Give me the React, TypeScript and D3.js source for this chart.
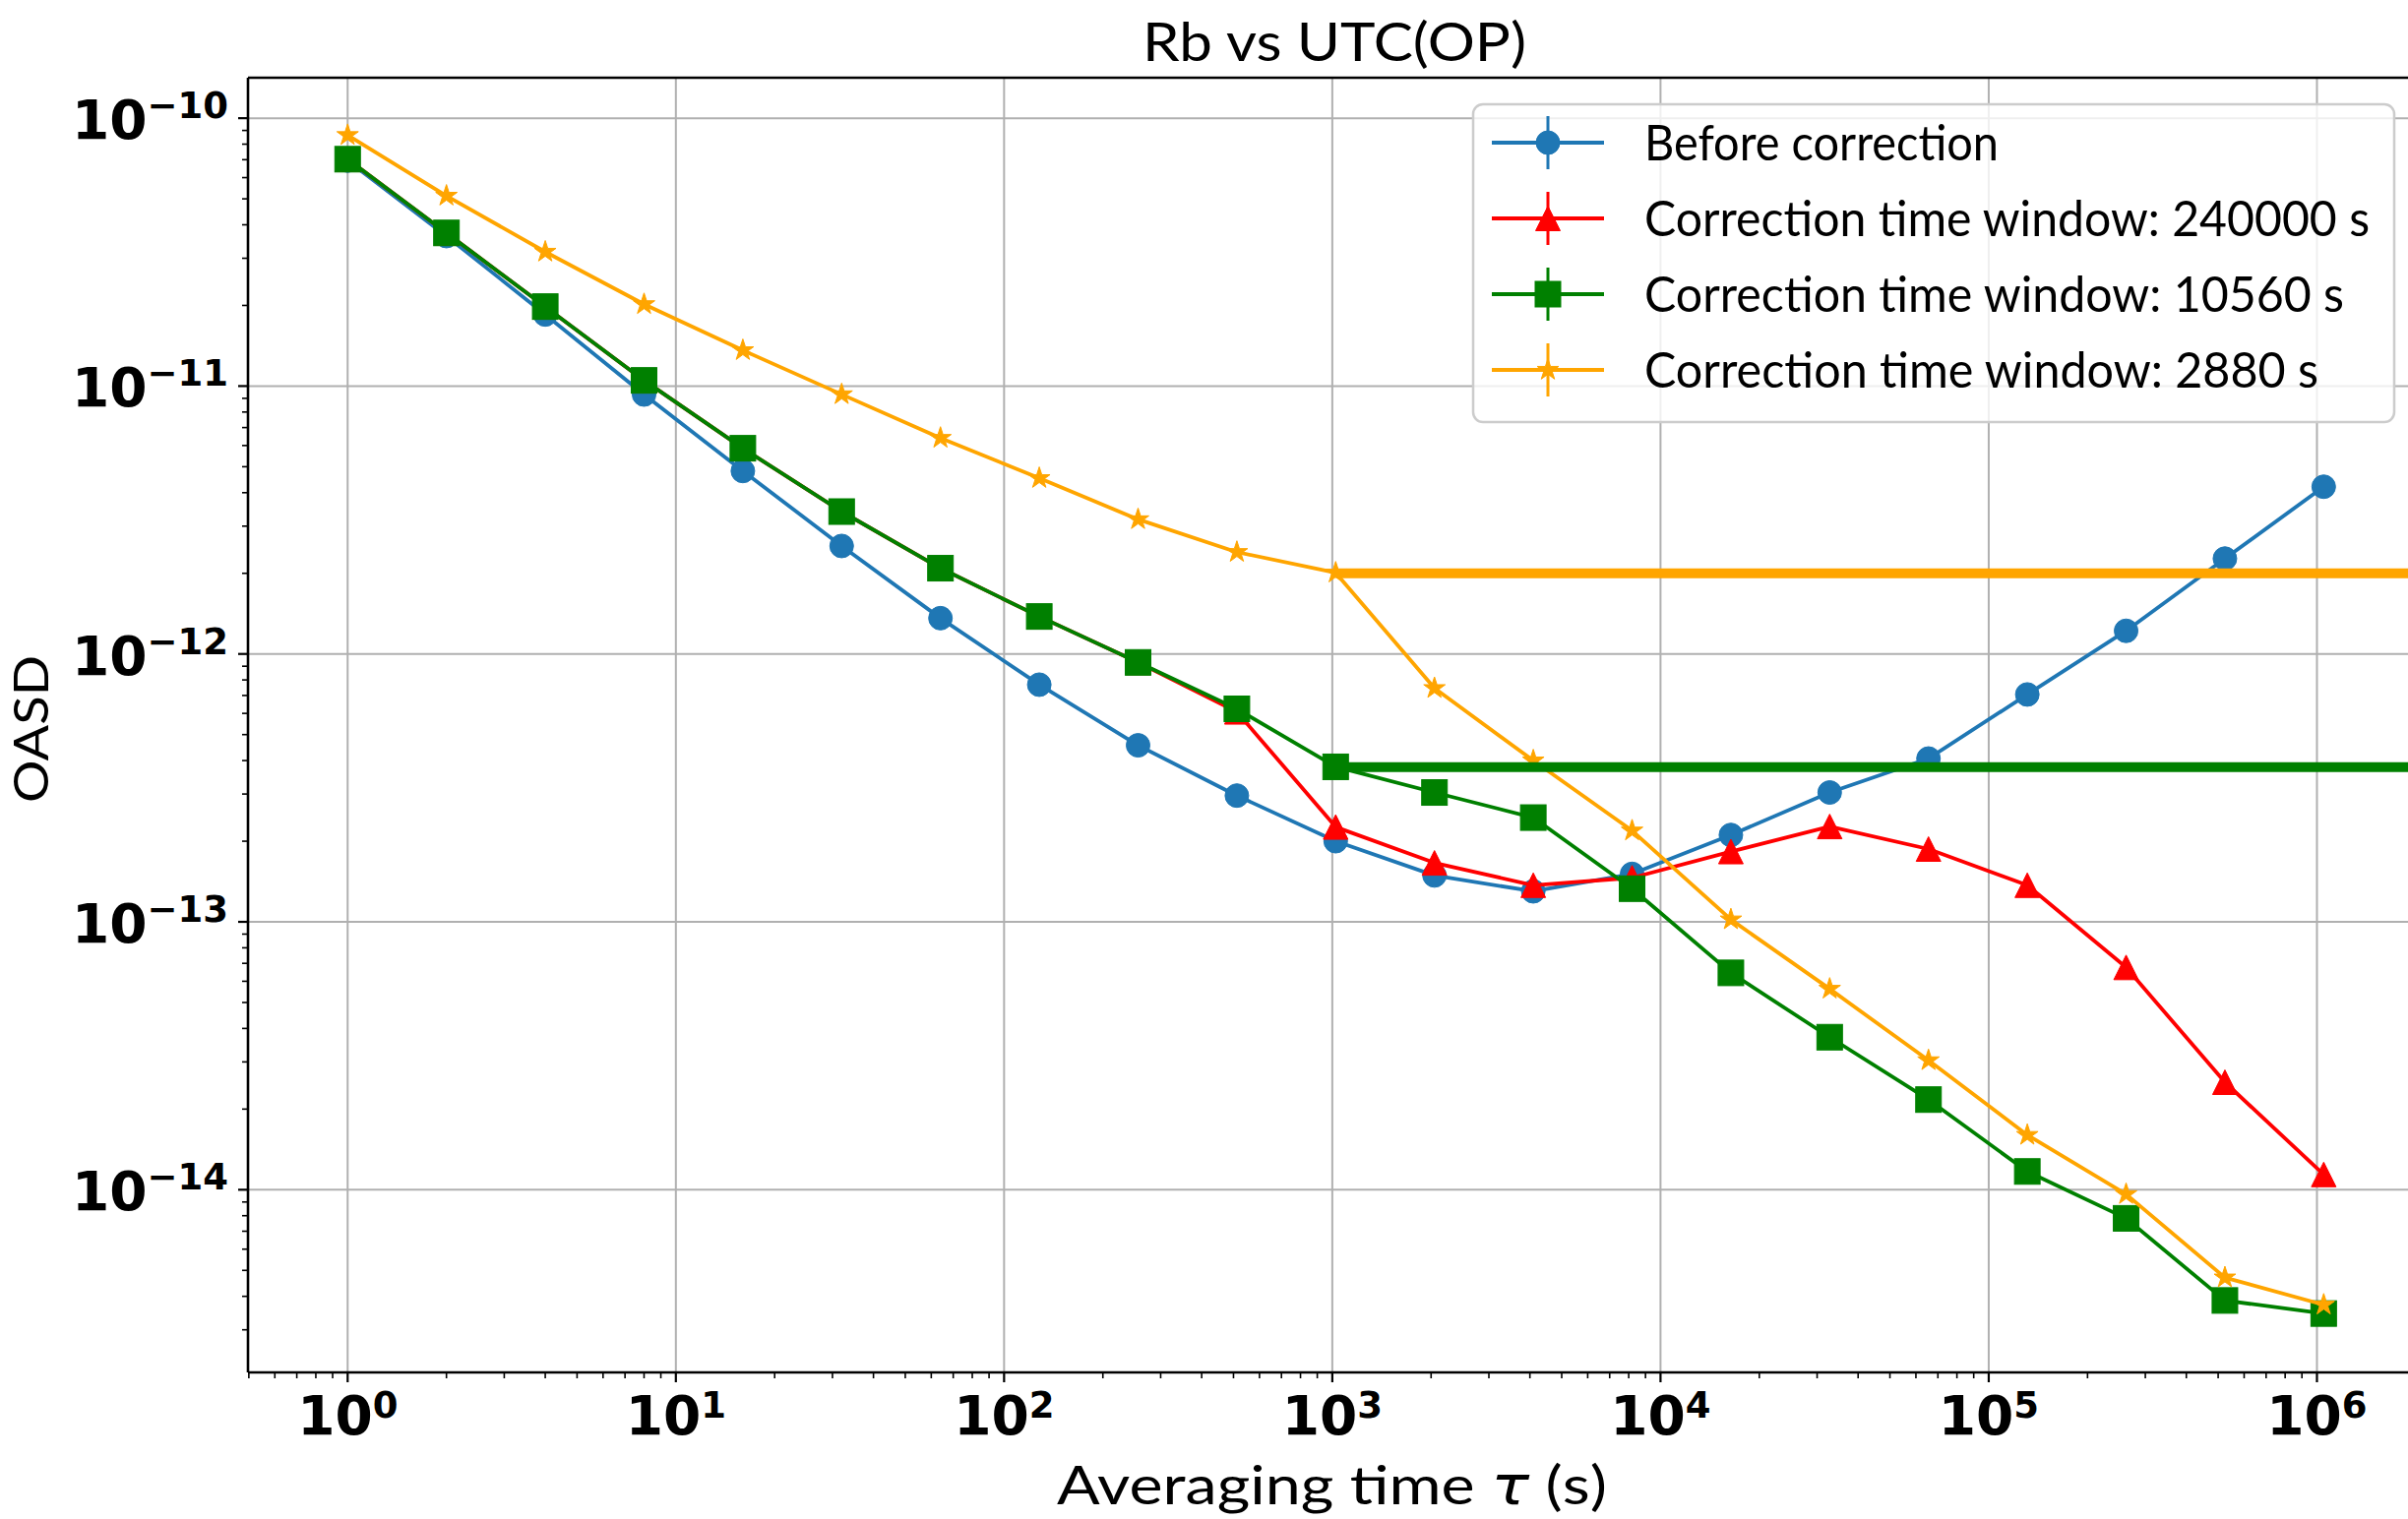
import React from 'react';
import * as d3 from 'd3';

// ---------- data ----------
const TAU = [1, 2, 4, 8, 16, 32, 64, 128, 256, 512, 1024, 2048, 4096, 8192, 16384, 32768, 65536, 131072, 262144, 524288, 1048576];

const BEFORE = [6.95e-11, 3.63e-11, 1.85e-11, 9.3e-12, 4.82e-12, 2.53e-12, 1.36e-12, 7.68e-13, 4.56e-13, 2.96e-13, 2.0e-13, 1.49e-13, 1.3e-13, 1.51e-13, 2.11e-13, 3.04e-13, 4.07e-13, 7.06e-13, 1.22e-12, 2.27e-12, 4.21e-12];

const WIN_240000 = [7.03e-11, 3.73e-11, 1.98e-11, 1.05e-11, 5.86e-12, 3.4e-12, 2.09e-12, 1.38e-12, 9.3e-13, 6.08e-13, 2.26e-13, 1.66e-13, 1.37e-13, 1.46e-13, 1.83e-13, 2.27e-13, 1.87e-13, 1.37e-13, 6.76e-14, 2.52e-14, 1.14e-14];

const WIN_10560 = [7.03e-11, 3.73e-11, 1.98e-11, 1.05e-11, 5.86e-12, 3.4e-12, 2.09e-12, 1.38e-12, 9.3e-13, 6.24e-13, 3.79e-13, 3.04e-13, 2.45e-13, 1.33e-13, 6.45e-14, 3.71e-14, 2.17e-14, 1.17e-14, 7.82e-15, 3.86e-15, 3.45e-15];

const WIN_2880 = [8.64e-11, 5.13e-11, 3.17e-11, 2.02e-11, 1.36e-11, 9.31e-12, 6.4e-12, 4.53e-12, 3.18e-12, 2.4e-12, 2.01e-12, 7.45e-13, 4.0e-13, 2.19e-13, 1.02e-13, 5.62e-14, 3.04e-14, 1.6e-14, 9.62e-15, 4.7e-15, 3.72e-15];

// horizontal reference levels (start at tau = 1024 s)
const LEVEL_START = 1024;
const LEVEL_10560 = 3.78e-13;
const LEVEL_2880 = 2.0e-12;

const X_DECADES = [0, 1, 2, 3, 4, 5, 6];
const Y_DECADES = [-10, -11, -12, -13, -14];

const TITLE = 'Rb vs UTC(OP)';
const X_LABEL_A = 'Averaging time ';
const X_LABEL_TAU = 'τ';
const X_LABEL_B = ' (s)';
const Y_LABEL = 'OASD';
const LEGEND_LABELS = [
  'Before correction',
  'Correction time window: 240000 s',
  'Correction time window: 10560 s',
  'Correction time window: 2880 s',
];

// ---------- layout / style ----------
const W = 2447;
const H = 1544;
const PLOT = { left: 252, top: 79, right: 2464, bottom: 1395 };
const X_DOMAIN: [number, number] = [0.497, 2.13e6];
const Y_DOMAIN: [number, number] = [2.08e-15, 1.416e-10];

const COLORS = { blue: '#1f77b4', red: '#ff0000', green: '#008000', orange: '#ffa500' };
const TEXT_FONT = 'Lato, "Open Sans", sans-serif';
const TICK_FONT = '"DejaVu Sans", sans-serif';

type Marker = 'circle' | 'triangle' | 'square' | 'star';

function starPath(R: number): string {
  const r = R * 0.381966;
  const pts: string[] = [];
  for (let i = 0; i < 10; i++) {
    const rad = i % 2 === 0 ? R : r;
    const a = -Math.PI / 2 + (i * Math.PI) / 5;
    pts.push(`${(rad * Math.cos(a)).toFixed(2)},${(rad * Math.sin(a)).toFixed(2)}`);
  }
  return 'M' + pts.join('L') + 'Z';
}

function MarkerShape({ kind, cx, cy, color }: { kind: Marker; cx: number; cy: number; color: string }) {
  const common = { fill: color, stroke: color, strokeWidth: 1 };
  if (kind === 'circle') return <circle cx={cx} cy={cy} r={12} {...common} />;
  if (kind === 'square') return <rect x={cx - 13} y={cy - 13} width={26} height={26} {...common} />;
  if (kind === 'triangle')
    return <path d={`M${cx},${cy - 12.5}L${cx + 12.5},${cy + 12.5}L${cx - 12.5},${cy + 12.5}Z`} {...common} />;
  return <path d={starPath(11.5)} transform={`translate(${cx},${cy})`} {...common} />;
}

const SERIES: { values: number[]; color: string; marker: Marker }[] = [
  { values: BEFORE, color: COLORS.blue, marker: 'circle' },
  { values: WIN_240000, color: COLORS.red, marker: 'triangle' },
  { values: WIN_10560, color: COLORS.green, marker: 'square' },
  { values: WIN_2880, color: COLORS.orange, marker: 'star' },
];

const LEVELS = [
  { value: LEVEL_2880, color: COLORS.orange },
  { value: LEVEL_10560, color: COLORS.green },
];

const LEGEND_TEXT_LEN = [360, 737, 711, 685];

export default function App() {
  const x = d3.scaleLog().domain(X_DOMAIN).range([PLOT.left, PLOT.right]);
  const y = d3.scaleLog().domain(Y_DOMAIN).range([PLOT.bottom, PLOT.top]);

  const line = d3
    .line<number>()
    .x((_, i) => x(TAU[i]))
    .y((v) => y(v));

  // minor ticks
  const xMinor: number[] = [];
  for (let k = -1; k <= 6; k++) for (let m = 2; m <= 9; m++) {
    const v = m * Math.pow(10, k);
    if (v > X_DOMAIN[0] && v < X_DOMAIN[1]) xMinor.push(v);
  }
  const yMinor: number[] = [];
  for (let k = -15; k <= -10; k++) for (let m = 2; m <= 9; m++) {
    const v = m * Math.pow(10, k);
    if (v > Y_DOMAIN[0] && v < Y_DOMAIN[1]) yMinor.push(v);
  }

  const legendRows = [145, 222, 299, 376];

  return (
    <div>
      <style>{`body{margin:0;overflow:hidden}`}</style>
      <svg width={W} height={H} style={{ display: 'block', background: '#fff' }}>
        <defs>
          <clipPath id="plotclip">
            <rect x={PLOT.left} y={PLOT.top} width={PLOT.right - PLOT.left} height={PLOT.bottom - PLOT.top} />
          </clipPath>
        </defs>
        <rect x={0} y={0} width={W} height={H} fill="#fff" />

        {/* grid */}
        <g stroke="#b0b0b0" strokeWidth={2}>
          {X_DECADES.map((k) => (
            <line key={'gx' + k} x1={x(Math.pow(10, k))} x2={x(Math.pow(10, k))} y1={PLOT.top} y2={PLOT.bottom} />
          ))}
          {Y_DECADES.map((k) => (
            <line key={'gy' + k} x1={PLOT.left} x2={PLOT.right} y1={y(Math.pow(10, k))} y2={y(Math.pow(10, k))} />
          ))}
        </g>

        {/* series */}
        <g clipPath="url(#plotclip)">
          {SERIES.map((s, si) => (
            <g key={'s' + si}>
              <path d={line(s.values) || ''} fill="none" stroke={s.color} strokeWidth={3.8} strokeLinejoin="round" />
              {s.values.map((v, i) => (
                <MarkerShape key={i} kind={s.marker} cx={x(TAU[i])} cy={y(v)} color={s.color} />
              ))}
            </g>
          ))}
          {LEVELS.map((l, i) => (
            <line key={'lv' + i} x1={x(LEVEL_START)} x2={x(X_DOMAIN[1])} y1={y(l.value)} y2={y(l.value)} stroke={l.color} strokeWidth={10} />
          ))}
        </g>

        {/* spines */}
        <g stroke="#000" strokeWidth={2.6} fill="none">
          <line x1={PLOT.left} x2={PLOT.right} y1={PLOT.top} y2={PLOT.top} />
          <line x1={PLOT.left} x2={PLOT.right} y1={PLOT.bottom} y2={PLOT.bottom} />
          <line x1={PLOT.left} x2={PLOT.left} y1={PLOT.top} y2={PLOT.bottom} />
          <line x1={PLOT.right} x2={PLOT.right} y1={PLOT.top} y2={PLOT.bottom} />
        </g>

        {/* ticks */}
        <g stroke="#000">
          {X_DECADES.map((k) => (
            <line key={'tx' + k} x1={x(Math.pow(10, k))} x2={x(Math.pow(10, k))} y1={PLOT.bottom} y2={PLOT.bottom + 10} strokeWidth={2.2} />
          ))}
          {xMinor.map((v, i) => (
            <line key={'mx' + i} x1={x(v)} x2={x(v)} y1={PLOT.bottom} y2={PLOT.bottom + 6} strokeWidth={1.6} />
          ))}
          {Y_DECADES.map((k) => (
            <line key={'ty' + k} x1={PLOT.left - 10} x2={PLOT.left} y1={y(Math.pow(10, k))} y2={y(Math.pow(10, k))} strokeWidth={2.2} />
          ))}
          {yMinor.map((v, i) => (
            <line key={'my' + i} x1={PLOT.left - 6} x2={PLOT.left} y1={y(v)} y2={y(v)} strokeWidth={1.6} />
          ))}
        </g>

        {/* tick labels */}
        <g fontFamily={TICK_FONT} fontWeight="bold" fill="#000">
          {X_DECADES.map((k) => (
            <text key={'lx' + k} x={x(Math.pow(10, k))} y={1458} textAnchor="middle" fontSize={55}>
              10<tspan fontSize={37} dy={-17}>{k}</tspan>
            </text>
          ))}
          {Y_DECADES.map((k) => (
            <text key={'ly' + k} x={232} y={y(Math.pow(10, k)) + 21} textAnchor="end" fontSize={55}>
              10<tspan fontSize={37} dy={-21}>{'\u2212' + Math.abs(k)}</tspan>
            </text>
          ))}
        </g>

        {/* title & axis labels */}
        <text x={1356} y={62} textAnchor="middle" fontFamily={TEXT_FONT} fontSize={55} textLength={390} lengthAdjust="spacingAndGlyphs">
          {TITLE}
        </text>
        <text x={1353.5} y={1529} textAnchor="middle" fontFamily={TEXT_FONT} fontSize={55} textLength={559} lengthAdjust="spacingAndGlyphs">
          {X_LABEL_A}
          <tspan fontStyle="italic" fontFamily={'"DejaVu Sans", sans-serif'}>{X_LABEL_TAU}</tspan>
          {X_LABEL_B}
        </text>
        <text
          transform="translate(49,741) rotate(-90)"
          x={0}
          y={0}
          textAnchor="middle"
          fontFamily={TEXT_FONT}
          fontSize={49}
          textLength={150}
          lengthAdjust="spacingAndGlyphs"
        >
          {Y_LABEL}
        </text>

        {/* legend */}
        <g>
          <rect x={1497} y={106} width={936} height={323} rx={10} ry={10} fill="#fff" fillOpacity={0.8} stroke="#cccccc" strokeWidth={2.5} />
          {SERIES.map((s, i) => {
            const cy = legendRows[i];
            return (
              <g key={'lg' + i}>
                <line x1={1516} x2={1630} y1={cy} y2={cy} stroke={s.color} strokeWidth={3.8} />
                <line x1={1573} x2={1573} y1={cy - 27} y2={cy + 27} stroke={s.color} strokeWidth={3} />
                <MarkerShape kind={s.marker} cx={1573} cy={cy} color={s.color} />
                <text x={1671} y={cy + 18} fontFamily={TEXT_FONT} fontSize={50} textLength={LEGEND_TEXT_LEN[i]} lengthAdjust="spacingAndGlyphs">
                  {LEGEND_LABELS[i]}
                </text>
              </g>
            );
          })}
        </g>
      </svg>
    </div>
  );
}
